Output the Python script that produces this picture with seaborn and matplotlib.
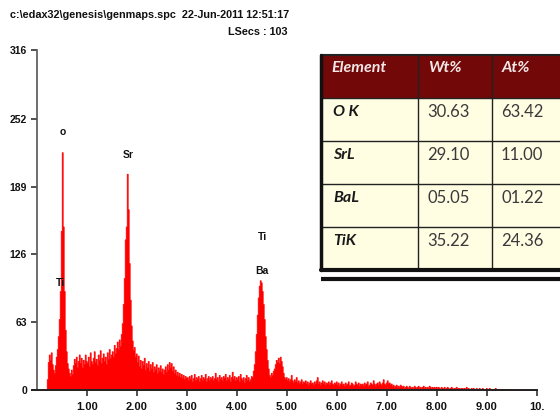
import numpy as np
import pandas as pd
import matplotlib
matplotlib.use("Agg")
import matplotlib.pyplot as plt
from matplotlib.patches import Rectangle
import seaborn as sns

# EDS spectrum, 0.02 keV channels from 0 to 10 keV (25 channels per row = 0.5 keV)
channel_width = 0.02
counts = [
    0, 0, 0, 0, 0, 0, 0, 0, 0, 0, 10, 26, 33, 28, 35, 24, 19, 16, 23, 31, 38, 50, 66, 92, 148,
    221, 152, 92, 56, 36, 25, 20, 16, 13, 19, 15, 23, 29, 25, 31, 21, 27, 33, 25, 30, 21, 28, 24, 33, 27,
    25, 31, 22, 35, 27, 24, 30, 36, 26, 29, 23, 33, 28, 37, 25, 30, 34, 27, 31, 24, 35, 29, 38, 30, 33,
    36, 31, 42, 34, 39, 45, 38, 47, 41, 52, 62, 80, 104, 140, 152, 201, 168, 118, 84, 60, 46, 37, 40, 31, 34,
    26, 32, 22, 28, 20, 27, 23, 30, 19, 25, 21, 27, 18, 24, 20, 26, 17, 22, 19, 24, 16, 21, 18, 23, 17,
    20, 15, 19, 22, 17, 24, 19, 26, 21, 25, 18, 22, 16, 19, 14, 17, 13, 16, 12, 15, 11, 14, 10, 13, 11,
    12, 9, 13, 10, 14, 8, 11, 15, 9, 12, 10, 13, 8, 11, 14, 9, 12, 10, 15, 8, 11, 13, 9, 12, 10,
    13, 9, 11, 16, 10, 12, 8, 14, 10, 12, 9, 13, 11, 15, 9, 12, 10, 14, 8, 12, 17, 10, 13, 9, 12,
    10, 13, 8, 15, 11, 9, 12, 7, 11, 14, 9, 12, 8, 10, 13, 12, 18, 24, 36, 52, 70, 86, 97, 102, 100,
    92, 80, 66, 50, 38, 28, 20, 14, 12, 16, 14, 18, 20, 24, 28, 26, 30, 25, 31, 27, 22, 16, 12, 10, 12,
    9, 11, 8, 10, 14, 9, 7, 10, 8, 12, 7, 9, 6, 8, 10, 6, 8, 7, 9, 6, 8, 5, 7, 9, 6,
    7, 5, 8, 6, 9, 12, 6, 8, 5, 7, 9, 6, 8, 5, 7, 6, 8, 5, 7, 9, 6, 5, 7, 6, 8,
    5, 7, 4, 6, 8, 5, 6, 4, 7, 5, 6, 8, 4, 5, 7, 6, 4, 5, 8, 6, 5, 7, 4, 6, 5,
    6, 4, 7, 5, 6, 8, 4, 5, 7, 6, 5, 9, 6, 4, 6, 7, 5, 8, 6, 5, 7, 10, 6, 5, 7,
    9, 6, 7, 5, 6, 4, 5, 3, 4, 5, 3, 4, 3, 5, 4, 3, 4, 2, 3, 4, 3, 2, 4, 3, 2,
    3, 2, 4, 3, 2, 3, 4, 2, 3, 2, 3, 4, 2, 3, 2, 3, 2, 4, 3, 2, 3, 2, 3, 2, 3,
    2, 3, 2, 1, 3, 2, 2, 3, 1, 2, 3, 2, 1, 2, 3, 2, 1, 2, 2, 3, 1, 2, 2, 1, 2,
    2, 1, 2, 1, 3, 1, 2, 1, 1, 2, 1, 2, 1, 1, 2, 1, 1, 2, 1, 1, 2, 1, 1, 1, 2,
    1, 1, 2, 1, 1, 0, 1, 1, 2, 1, 0, 1, 1, 0, 1, 1, 0, 1, 0, 1, 0, 0, 1, 0, 0,
    0, 0, 0, 0, 0, 0, 0, 0, 0, 0, 0, 0, 0, 0, 0, 0, 0, 0, 0, 0, 0, 0, 0, 0, 0,
]
energy = np.arange(len(counts)) * channel_width + channel_width / 2

y_ticks = [0, 63, 126, 189, 252, 316]
x_ticks = [1, 2, 3, 4, 5, 6, 7, 8, 9, 10]
x_tick_labels = ["1.00", "2.00", "3.00", "4.00", "5.00", "6.00", "7.00", "8.00", "9.00", "10."]

# peak labels: text, energy (keV), counts
peak_names = ["o", "Ti", "Sr", "Ti", "Ba"]
peak_energy = [0.53, 0.47, 1.83, 4.51, 4.51]
peak_counts = [240, 99, 218, 142, 111]

# quantification table
table_header = ["Element", "Wt%", "At%"]
elements = ["O K", "SrL", "BaL", "TiK"]
wt_pct = ["30.63", "29.10", "05.05", "35.22"]
at_pct = ["63.42", "11.00", "01.22", "24.36"]

header_line1 = "c:\\edax32\\genesis\\genmaps.spc  22-Jun-2011 12:51:17"
header_line2 = "LSecs : 103"

sns.set_theme(style="white")
plt.rcParams["font.family"] = ["Liberation Sans", "DejaVu Sans"]

W, H = 560, 412
fig = plt.figure(figsize=(W / 100, H / 100), dpi=100)
fig.patch.set_facecolor("white")

# axes placed in pixel terms: x-axis y=390, top y=50, x from 31.7 to 536.7
ax = fig.add_axes([31.7 / W, (H - 390) / H, 505 / W, 340 / H])
spec = pd.DataFrame({"energy": energy, "counts": counts})
sns.histplot(data=spec, x="energy", weights="counts", binwidth=channel_width,
             binrange=(0, 10), element="step", fill=True, color="#ff0000",
             alpha=1.0, linewidth=0.5, ax=ax)

# spine position first: it resets the tick objects
ax.spines["top"].set_visible(False)
ax.spines["right"].set_visible(False)
ax.spines["left"].set_position(("data", 0))
ax.spines["left"].set_color("#555555")
ax.spines["left"].set_linewidth(1.2)
ax.spines["bottom"].set_color("#222222")
ax.spines["bottom"].set_linewidth(1.4)
ax.set_facecolor("white")

ax.set_xlim(-0.1, 10.0)
ax.set_ylim(0, 316)
ax.set_xlabel("")
ax.set_ylabel("")
ax.set_yticks(y_ticks)
ax.set_yticklabels([str(v) for v in y_ticks], fontsize=7.5, fontweight="bold", color="#111111")
ax.set_xticks(x_ticks)
ax.set_xticklabels(x_tick_labels, fontsize=8, fontweight="bold", color="#111111")
ax.tick_params(axis="both", direction="out", length=4, width=1.2, color="#333333",
               bottom=True, left=True)
ax.tick_params(axis="x", pad=5)
ax.tick_params(axis="y", pad=3)

for name, e, c in zip(peak_names, peak_energy, peak_counts):
    ax.text(e, c, name, ha="center", va="center", fontsize=7.5, fontweight="bold",
            color="#111111")

fig.text(10 / W, (H - 15) / H, header_line1, ha="left", va="center",
         fontsize=7.8, fontweight="bold", color="#111111")
fig.text(288 / W, (H - 32) / H, header_line2, ha="right", va="center",
         fontsize=7.8, fontweight="bold", color="#111111")

# table as its own axes: x in pixels from table left, y in rows
col_widths = [97, 74, 74]
col_edges = np.concatenate([[0], np.cumsum(col_widths)])
n_rows = len(elements) + 1
tax = fig.add_axes([321 / W, (H - 270) / H, col_edges[-1] / W, 215 / H])
tax.set_xlim(0, col_edges[-1])
tax.set_ylim(n_rows, 0)
tax.axis("off")

tax.add_patch(Rectangle((0, 0), col_edges[-1], 1, facecolor="#720808", edgecolor="none"))
tax.add_patch(Rectangle((0, 1), col_edges[-1], n_rows - 1, facecolor="#fffde2", edgecolor="none"))
for r in range(1, n_rows):
    tax.axhline(r, color="#222222", lw=1.0)
for c in col_edges[1:-1]:
    tax.axvline(c, color="#222222", lw=1.0)
tax.axhline(0, color="#222222", lw=1.5, clip_on=False)
tax.axvline(0, color="#111111", lw=2.5, clip_on=False)
tax.plot([0, col_edges[-1]], [n_rows, n_rows], color="#111111", lw=3, clip_on=False)
tax.plot([0, col_edges[-1]], [n_rows + 0.21, n_rows + 0.21], color="#111111", lw=3,
         solid_capstyle="butt", clip_on=False)

tfont = ["Lato", "DejaVu Sans"]
for j, h in enumerate(table_header):
    tax.text(col_edges[j] + 10, 0.31, h, ha="left", va="center", fontsize=11.5,
             fontweight="bold", fontstyle="italic", color="#f3e6e6", family=tfont)
for i in range(len(elements)):
    y = i + 1 + 0.33
    tax.text(col_edges[0] + 12, y, elements[i], ha="left", va="center", fontsize=11.5,
             fontweight="bold", fontstyle="italic", color="#1a1a1a", family=tfont)
    tax.text(col_edges[1] + 9, y, wt_pct[i], ha="left", va="center", fontsize=12,
             color="#3a3a3a", family=tfont)
    tax.text(col_edges[2] + 9, y, at_pct[i], ha="left", va="center", fontsize=12,
             color="#3a3a3a", family=tfont)

fig.savefig("out.png", dpi=100)
